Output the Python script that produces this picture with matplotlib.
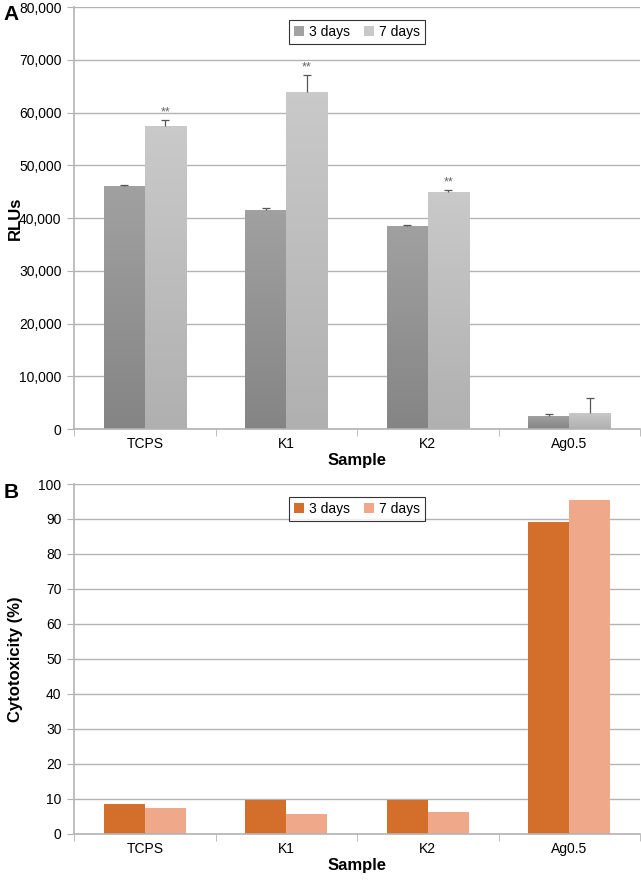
import numpy as np
import matplotlib.pyplot as plt
from matplotlib.ticker import FuncFormatter, FixedLocator
from matplotlib.patches import Patch

plt.rcParams['font.family'] = ['Liberation Sans', 'DejaVu Sans']

samples = ['TCPS', 'K1', 'K2', 'Ag0.5']
series = ['3 days', '7 days']

# Panel A: RLUs
rlu_3d = [46050, 41600, 38500, 2450]
rlu_7d = [57400, 63950, 44950, 3050]
rlu_err_3d = [300, 300, 150, 350]
rlu_err_7d = [1100, 3200, 400, 2850]
rlu_sig_7d = ['**', '**', '**', '']

# Panel B: cytotoxicity (%)
cyto_3d = [8.5, 9.6, 9.8, 89.2]
cyto_7d = [7.5, 5.8, 6.2, 95.4]

W = 0.29
GRID = '#b3b3b3'


def style_axes(ax, ymax, ystep, fmt):
    ax.set_xlim(-0.5, len(samples) - 0.5)
    ax.set_ylim(0, ymax)
    ax.set_yticks(np.arange(0, ymax + ystep / 2, ystep))
    ax.yaxis.set_major_formatter(FuncFormatter(fmt))
    ax.yaxis.grid(True, color=GRID, linewidth=1.0)
    ax.set_axisbelow(True)
    ax.set_xticks(range(len(samples)))
    ax.set_xticklabels(samples)
    ax.tick_params(axis='x', which='major', length=0, labelsize=10, pad=6)
    ax.xaxis.set_minor_locator(FixedLocator(np.arange(-0.5, len(samples), 1.0)))
    ax.tick_params(axis='x', which='minor', length=5, color=GRID, direction='out')
    ax.tick_params(axis='y', length=5, color=GRID, labelsize=10, pad=4)
    for s in ['top', 'right']:
        ax.spines[s].set_visible(False)
    for s in ['left', 'bottom']:
        ax.spines[s].set_color(GRID)
        ax.spines[s].set_linewidth(1.2)
    ax.set_xlabel('Sample', fontsize=12, fontweight='bold', labelpad=1)


def gradient_bars(ax, x, h, top_c, bot_c, label):
    bars = ax.bar(x, h, W, color='none', edgecolor='none', label=label)
    grad = np.linspace(0, 1, 256).reshape(-1, 1)
    top = np.array(top_c)
    bot = np.array(bot_c)
    img = bot + (top - bot) * grad[..., None]
    for b in bars:
        x0, y0 = b.get_x(), b.get_y()
        im = ax.imshow(img, extent=[x0, x0 + b.get_width(), y0, y0 + b.get_height()],
                       origin='lower', aspect='auto', zorder=2)
        im.set_clip_path(b)
    return bars


def upper_err(ax, xs, vals, errs):
    tops = np.array(vals) + np.array(errs)
    ax.vlines(xs, vals, tops, color='#555555', linewidth=0.9, zorder=3)
    ax.plot(xs, tops, linestyle='none', marker='_', markersize=6,
            markeredgewidth=0.9, color='#555555', zorder=3)


fig = plt.figure(figsize=(6.41, 8.80), dpi=100)
axA = fig.add_axes([0.1155, 0.5125, 0.883, 0.4795])
axB = fig.add_axes([0.1155, 0.0523, 0.883, 0.3977])

x = np.arange(len(samples))

# Panel A
c3 = (0.52, 0.52, 0.52)
c3t = (0.63, 0.63, 0.63)
c7 = (0.69, 0.69, 0.69)
c7t = (0.79, 0.79, 0.79)
gradient_bars(axA, x - W / 2, rlu_3d, c3t, c3, series[0])
gradient_bars(axA, x + W / 2, rlu_7d, c7t, c7, series[1])
upper_err(axA, x - W / 2, rlu_3d, rlu_err_3d)
upper_err(axA, x + W / 2, rlu_7d, rlu_err_7d)
for i, s in enumerate(rlu_sig_7d):
    if s:
        axA.text(x[i] + W / 2, rlu_7d[i] + rlu_err_7d[i] + 300, s, ha='center',
                 va='bottom', fontsize=9, color='#666666')
style_axes(axA, 80000, 10000, lambda v, p: f'{int(v):,}')
axA.set_ylabel('RLUs', fontsize=12, fontweight='bold')
axA.yaxis.set_label_coords(-0.09, 0.5)
legA = axA.legend(handles=[Patch(facecolor=c3t, edgecolor='none'),
                           Patch(facecolor=c7t, edgecolor='none')],
                  labels=series, loc='upper center', bbox_to_anchor=(0.5, 0.985),
                  ncol=2, fontsize=10, frameon=True, fancybox=False,
                  handlelength=0.7, handleheight=0.7, handletextpad=0.4,
                  columnspacing=1.0, borderpad=0.35)
legA.get_frame().set_edgecolor('black')
legA.get_frame().set_linewidth(0.8)

# Panel B
o3 = '#d46f2b'
o7 = '#f0a88a'
axB.bar(x - W / 2, cyto_3d, W, color=o3, label=series[0], zorder=2)
axB.bar(x + W / 2, cyto_7d, W, color=o7, label=series[1], zorder=2)
style_axes(axB, 100, 10, lambda v, p: f'{int(v)}')
axB.set_ylabel('Cytotoxicity (%)', fontsize=12, fontweight='bold')
axB.yaxis.set_label_coords(-0.09, 0.5)
legB = axB.legend(loc='upper center', bbox_to_anchor=(0.5, 0.983), ncol=2,
                  fontsize=10, frameon=True, fancybox=False,
                  handlelength=0.7, handleheight=0.7, handletextpad=0.4,
                  columnspacing=1.0, borderpad=0.35)
legB.get_frame().set_edgecolor('black')
legB.get_frame().set_linewidth(0.8)

fig.text(0.005, 0.983, 'A', fontsize=15, fontweight='bold', va='center')
fig.text(0.005, 0.44, 'B', fontsize=15, fontweight='bold', va='center')

fig.savefig('out.png', dpi=100, facecolor='white')
